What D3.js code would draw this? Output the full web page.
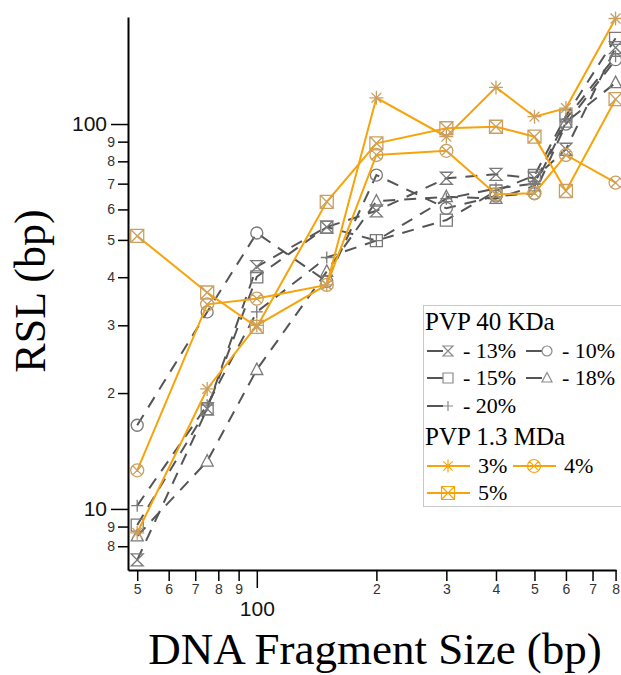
<!DOCTYPE html>
<html>
<head>
<meta charset="utf-8">
<script src="https://cdn.jsdelivr.net/npm/d3@7/dist/d3.min.js"></script>
<style>
  body { margin: 0; background: #fff; }
  svg { display: block; }
</style>
</head>
<body>
<div id="chart"></div>
<script>
// fragment sizes (bp)
const sizes = [50, 75, 100, 150, 200, 300, 400, 500, 600, 800];

// PVP 40 KDa
const pvp40_13 = [7.37, 18.2, 42.6, 54.0, 59.5, 72.3, 74.0, 72.3, 86.0, 158];
const pvp40_10 = [16.5, 32.5, 52.1, 39.0, 73.7, 60.4, 65.0, 66.0, 100, 147];
const pvp40_15 = [9.08, 18.2, 40.1, 54.0, 49.8, 56.3, 67.0, 73.5, 105, 167];
const pvp40_18 = [8.5, 13.3, 23.0, 41.4, 63.0, 64.7, 64.0, 69.0, 101, 128];
const pvp40_20 = [10.2, 18.6, 32.5, 45.0, 49.8, 64.0, 68.0, 70.0, 103, 150];

// PVP 1.3 MDa
const pvp13_3 = [8.67, 20.5, 30.0, 38.2, 117, 92.7, 124.5, 104.5, 110, 188];
const pvp13_4 = [12.6, 34.0, 35.2, 38.2, 83.1, 85.2, 65.7, 66.1, 83.1, 70.4];
const pvp13_5 = [51.2, 36.5, 29.7, 62.8, 89.1, 97.5, 98.4, 92.7, 67.0, 116];

const xTicks = [50, 60, 70, 80, 90, 100, 200, 300, 400, 500, 600, 700, 800];
const yTicks = [8, 9, 10, 20, 30, 40, 50, 60, 70, 80, 90, 100];

const greySeries = [
  { label: '- 13%', shape: 'hourglass', values: pvp40_13 },
  { label: '- 10%', shape: 'circle', values: pvp40_10 },
  { label: '- 15%', shape: 'square', values: pvp40_15 },
  { label: '- 18%', shape: 'triangle', values: pvp40_18 },
  { label: '- 20%', shape: 'plus', values: pvp40_20 },
];
const orangeSeries = [
  { label: '3%', shape: 'asterisk', values: pvp13_3 },
  { label: '4%', shape: 'circleX', values: pvp13_4 },
  { label: '5%', shape: 'squareX', values: pvp13_5 },
];

const width = 621;
const height = 675;
const serif = '"Liberation Serif", "Times New Roman", serif';
const sans = '"Liberation Sans", Arial, sans-serif';

const grey = '#555';
const greyMark = '#7a7a7a';
const orange = '#f7a30a';
const orangeMark = '#c9a062';

// marker outlines, centred on 0,0
const shapePath = (shape, r) => {
  const k = r * 0.707;
  const circle = `M${-r},0A${r},${r} 0 1,0 ${r},0A${r},${r} 0 1,0 ${-r},0Z`;
  const cross = `M${-k},${-k}L${k},${k}M${k},${-k}L${-k},${k}`;
  switch (shape) {
    case 'circle': return circle;
    case 'circleX': return circle + cross;
    case 'square': return `M${-r},${-r}H${r}V${r}H${-r}Z`;
    case 'squareX': return `M${-r},${-r}H${r}V${r}H${-r}Z` +
      `M${-r},${-r}L${r},${r}M${r},${-r}L${-r},${r}`;
    case 'triangle': return `M0,${-r * 1.1}L${r},${r * 0.8}L${-r},${r * 0.8}Z`;
    case 'hourglass': return `M${-r},${-r}H${r}L${-r},${r}H${r}Z`;
    case 'plus': return `M${-r},0H${r}M0,${-r}V${r}`;
    case 'asterisk': return `M${-r},0H${r}M0,${-r}V${r}` + cross;
  }
};

const svg = d3.select('#chart')
  .append('svg')
  .attr('width', width)
  .attr('height', height);

const x = d3.scaleLog().domain([47.4, 802]).range([128, 616]);
const y = d3.scaleLog().domain([6.94, 189.7]).range([570, 17]);

// axes
const xAxis = svg.append('g')
  .attr('transform', 'translate(0,570)')
  .call(d3.axisBottom(x)
    .tickValues(xTicks)
    .tickSize(11)
    .tickSizeOuter(0)
    .tickFormat((d) => (d === 100 ? '100' : String(d).charAt(0))));
xAxis.select('.domain').attr('stroke', '#000').attr('stroke-width', 2);
xAxis.selectAll('.tick line').attr('stroke', '#000').attr('stroke-width', 1.5);
xAxis.selectAll('.tick text')
  .attr('font-family', sans).attr('font-size', 14).attr('fill', '#333');
xAxis.selectAll('.tick').filter((d) => d === 100)
  .call((t) => t.select('line').attr('y2', 18))
  .call((t) => t.select('text').attr('y', 31).attr('font-size', 21).attr('fill', '#111'));

const yAxis = svg.append('g')
  .attr('transform', 'translate(128,0)')
  .call(d3.axisLeft(y)
    .tickValues(yTicks)
    .tickSize(10)
    .tickSizeOuter(0)
    .tickFormat((d) => (d === 10 || d === 100 ? String(d) : String(d).charAt(0))));
yAxis.select('.domain').attr('stroke', '#000').attr('stroke-width', 2);
yAxis.selectAll('.tick line').attr('stroke', '#000').attr('stroke-width', 1.5);
yAxis.selectAll('.tick text')
  .attr('font-family', sans).attr('font-size', 14).attr('fill', '#333');
yAxis.selectAll('.tick').filter((d) => d === 10 || d === 100)
  .call((t) => t.select('line').attr('x2', -17))
  .call((t) => t.select('text').attr('x', -21).attr('font-size', 21).attr('fill', '#111'));

// axis titles
svg.append('text')
  .attr('transform', 'translate(45,291) rotate(-90)')
  .attr('text-anchor', 'middle')
  .attr('font-family', serif)
  .attr('font-size', 44)
  .text('RSL (bp)');

svg.append('text')
  .attr('x', 375)
  .attr('y', 664)
  .attr('text-anchor', 'middle')
  .attr('font-family', serif)
  .attr('font-size', 45)
  .text('DNA Fragment Size (bp)');

const line = d3.line()
  .x((d, i) => x(sizes[i]))
  .y((d) => y(d));

const plot = svg.append('g');

// PVP 40 KDa: dashed grey lines, hollow grey markers
plot.selectAll('.grey-line')
  .data(greySeries)
  .enter()
  .append('path')
  .attr('class', 'grey-line')
  .attr('d', (s) => line(s.values))
  .attr('fill', 'none')
  .attr('stroke', grey)
  .attr('stroke-width', 2)
  .attr('stroke-dasharray', '12,9');

greySeries.forEach((s) => {
  plot.selectAll(null)
    .data(s.values)
    .enter()
    .append('path')
    .attr('transform', (d, i) => `translate(${x(sizes[i])},${y(d)})`)
    .attr('d', shapePath(s.shape, 6))
    .attr('fill', 'none')
    .attr('stroke', greyMark)
    .attr('stroke-width', 1.3);
});

// PVP 1.3 MDa: solid orange lines
plot.selectAll('.orange-line')
  .data(orangeSeries)
  .enter()
  .append('path')
  .attr('class', 'orange-line')
  .attr('d', (s) => line(s.values))
  .attr('fill', 'none')
  .attr('stroke', orange)
  .attr('stroke-width', 2);

orangeSeries.forEach((s) => {
  plot.selectAll(null)
    .data(s.values)
    .enter()
    .append('path')
    .attr('transform', (d, i) => `translate(${x(sizes[i])},${y(d)})`)
    .attr('d', shapePath(s.shape, s.shape === 'asterisk' ? 7 : 6.5))
    .attr('fill', 'none')
    .attr('stroke', orangeMark)
    .attr('stroke-width', 1.3);
});

// legend
const legend = svg.append('g');
legend.append('rect')
  .attr('x', 423.5).attr('y', 305.5)
  .attr('width', 200).attr('height', 201)
  .attr('fill', '#fff')
  .attr('stroke', '#c8c8c8');

const heading = (txt, yy) => legend.append('text')
  .attr('x', 425).attr('y', yy)
  .attr('font-family', serif).attr('font-size', 25)
  .text(txt);
heading('PVP 40 KDa', 330);
heading('PVP 1.3 MDa', 445);

const greyRows = [351, 378, 406];
const colX = [448, 547];
const greyItems = legend.selectAll('.gitem')
  .data(greySeries)
  .enter()
  .append('g')
  .attr('transform', (d, i) => `translate(${colX[i % 2]},${greyRows[Math.floor(i / 2)]})`);
greyItems.append('line')
  .attr('x1', -21).attr('x2', -5)
  .attr('stroke', grey).attr('stroke-width', 2);
greyItems.append('path')
  .attr('d', (d) => shapePath(d.shape, 5))
  .attr('fill', 'none').attr('stroke', '#8a8a8a').attr('stroke-width', 1.2);
greyItems.append('text')
  .attr('x', 15).attr('y', 7)
  .attr('font-family', serif).attr('font-size', 22)
  .text((d) => d.label);

const orangeRows = [466, 493];
const orangeCol = [448, 534];
const orangeItems = legend.selectAll('.oitem')
  .data(orangeSeries)
  .enter()
  .append('g')
  .attr('transform', (d, i) => `translate(${orangeCol[i % 2]},${orangeRows[Math.floor(i / 2)]})`);
orangeItems.append('line')
  .attr('x1', -21).attr('x2', 22)
  .attr('stroke', orange).attr('stroke-width', 2);
orangeItems.append('path')
  .attr('d', (d) => shapePath(d.shape, 6.5))
  .attr('fill', 'none').attr('stroke', orange).attr('stroke-width', 1.2);
orangeItems.append('text')
  .attr('x', 30).attr('y', 7)
  .attr('font-family', serif).attr('font-size', 22)
  .text((d) => d.label);
</script>
</body>
</html>
